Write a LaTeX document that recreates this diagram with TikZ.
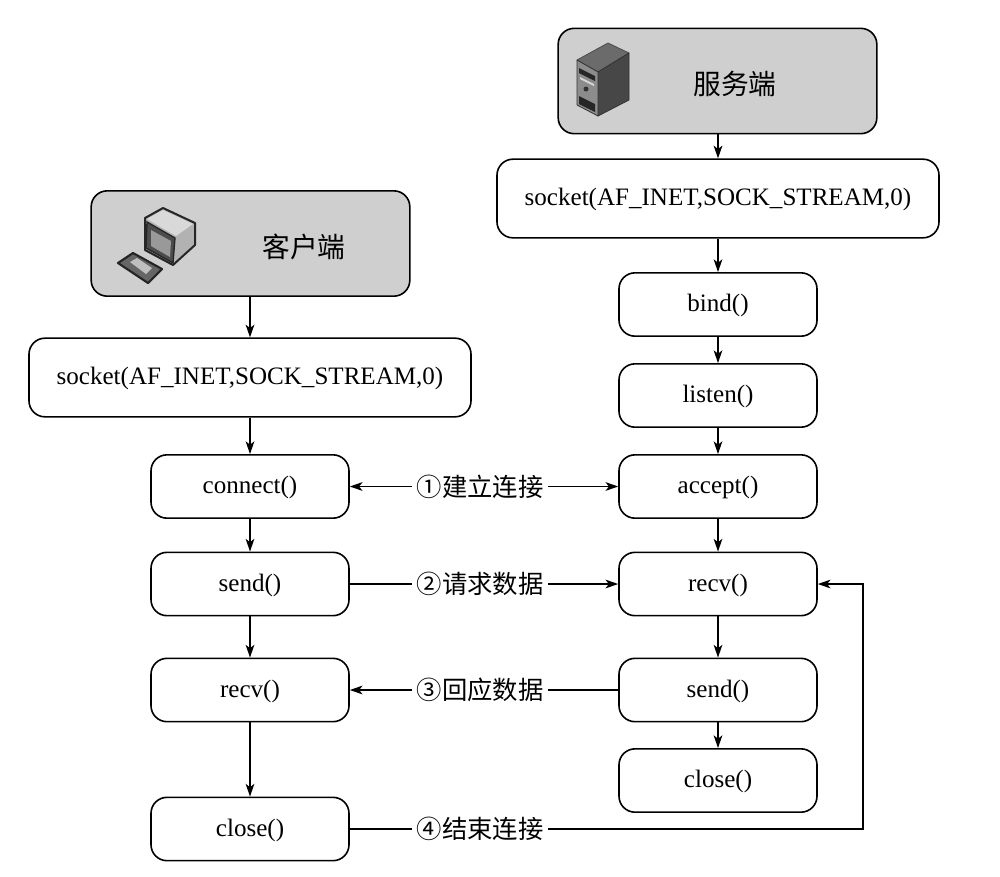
\documentclass[tikz,border=0pt]{standalone}
\usepackage{fontspec}
\setmainfont{Liberation Serif}
\newfontfamily\cjk{Noto Sans CJK SC}
\usetikzlibrary{arrows.meta,calc}
\tikzset{
  x=0.75pt,y=-0.75pt,
  box/.style={draw=black,line width=1.2pt,rounded corners=12pt,fill=white,inner sep=0pt,text height=14.5pt,text depth=3.3pt,font=\fontsize{18.8}{20}\selectfont},
  head/.style={draw=black,line width=1.2pt,rounded corners=12pt,inner sep=0pt,fill=black!19},
  smallbox/.style={box,minimum width=148.5pt,minimum height=47.5pt},
  widebox/.style={box,minimum width=331.5pt,minimum height=59pt},
  headbox/.style={head,minimum width=239pt,minimum height=79pt},
  flow/.style={line width=1.2pt,-{Stealth[length=9.5pt,width=6.5pt,inset=2.5pt]}},
  plainline/.style={line width=1.2pt},
  msg/.style={inner sep=0pt,minimum width=102pt,font=\cjk\fontsize{19}{20}\selectfont},
  title/.style={font=\cjk\fontsize{20.8}{22}\selectfont,inner sep=0pt},
}
\begin{document}
\begin{tikzpicture}
\useasboundingbox (0,0) rectangle (1000,876);
% server column
\node[headbox] (shead) at (717.5,81) {};
\node[title] (stitle) at (735,83.5) {服务端};
\node[widebox] (ssock) at (718,198.5) {socket(AF\_INET,SOCK\_STREAM,0)};
\node[smallbox] (sbind) at (718,304.5) {bind()};
\node[smallbox] (slisten) at (718,395.5) {listen()};
\node[smallbox] (saccept) at (718,486.5) {accept()};
\node[smallbox] (srecv) at (718,584) {recv()};
\node[smallbox] (ssend) at (718,690) {send()};
\node[smallbox] (sclose) at (718,780.5) {close()};
% client column
\node[headbox] (chead) at (250.5,243.5) {};
\node[title] (ctitle) at (304,247) {客户端};
\node[widebox] (csock) at (250,377.5) {socket(AF\_INET,SOCK\_STREAM,0)};
\node[smallbox] (cconn) at (250,486.5) {connect()};
\node[smallbox] (csend) at (250,584) {send()};
\node[smallbox] (crecv) at (250,690) {recv()};
\node[smallbox] (cclose) at (250,829) {close()};
% message labels
\node[msg] (m1) at (480,486.5) {①建立连接};
\node[msg] (m2) at (480,584) {②请求数据};
\node[msg] (m3) at (480,690) {③回应数据};
\node[msg] (m4) at (480,829) {④结束连接};
\coordinate (corner) at (863,829);
\coordinate (cornertop) at (863,584);
% vertical flows
\draw[flow] (718,134) -- (ssock.north);
\draw[flow] (ssock.south) -- (sbind.north);
\draw[flow] (sbind.south) -- (slisten.north);
\draw[flow] (slisten.south) -- (saccept.north);
\draw[flow] (saccept.south) -- (srecv.north);
\draw[flow] (srecv.south) -- (ssend.north);
\draw[flow] (ssend.south) -- (sclose.north);
\draw[flow] (250,296) -- (csock.north);
\draw[flow] (csock.south) -- (cconn.north);
\draw[flow] (cconn.south) -- (csend.north);
\draw[flow] (csend.south) -- (crecv.north);
\draw[flow] (crecv.south) -- (cclose.north);
% horizontal flows
\draw[flow] (m1.west) -- (cconn.east);
\draw[flow] (m1.east) -- (saccept.west);
\draw[plainline] (csend.east) -- (m2.west);
\draw[flow] (m2.east) -- (srecv.west);
\draw[flow] (m3.west) -- (crecv.east);
\draw[plainline] (m3.east) -- (ssend.west);
\draw[plainline] (cclose.east) -- (m4.west);
\draw[flow] (m4.east) -- (corner) -- (cornertop) -- (srecv.east);
% computer icon
\filldraw[draw=black!85,line width=1.5pt,line join=round,fill=black!30] (145,218)--(163,208)--(195,223)--(195,245)--(173,265)--(145,250)--cycle;
\fill[black!15] (147,219)--(163,210)--(193,224)--(176,236)--cycle;
\filldraw[draw=black!85,line width=1pt,fill=black!70] (147,222)--(175,238)--(173,263)--(146,248)--cycle;
\fill[black!40] (151,230)--(171,241)--(170,257)--(151,246)--cycle;
\filldraw[draw=black!85,line width=1.6pt,line join=round,fill=black!60] (118,263)--(133,253)--(162,269)--(148,283)--cycle;
\fill[black!25] (130,262)--(137,258)--(152,268)--(146,274)--cycle;
% server icon
\filldraw[draw=black!70,line width=0.6pt,line join=round,fill=black!58] (577,60)--(608,43)--(629,53)--(598,72)--cycle;
\filldraw[draw=black!80,line width=0.6pt,line join=round,fill=black!72] (598,72)--(629,53)--(629,100)--(598,116)--cycle;
\filldraw[draw=black!80,line width=0.6pt,line join=round,fill=black!45] (577,60)--(598,72)--(598,116)--(577,105)--cycle;
\fill[black!85] (579,68)--(595,76)--(595,81)--(579,73)--cycle;
\fill[black!15] (580,77)--(594,84)--(594,86)--(580,79)--cycle;
\fill[black!80] (586,89) circle (2.5);
\fill[black!85] (579,96)--(595,104)--(595,112)--(579,104)--cycle;
\end{tikzpicture}
\end{document}
